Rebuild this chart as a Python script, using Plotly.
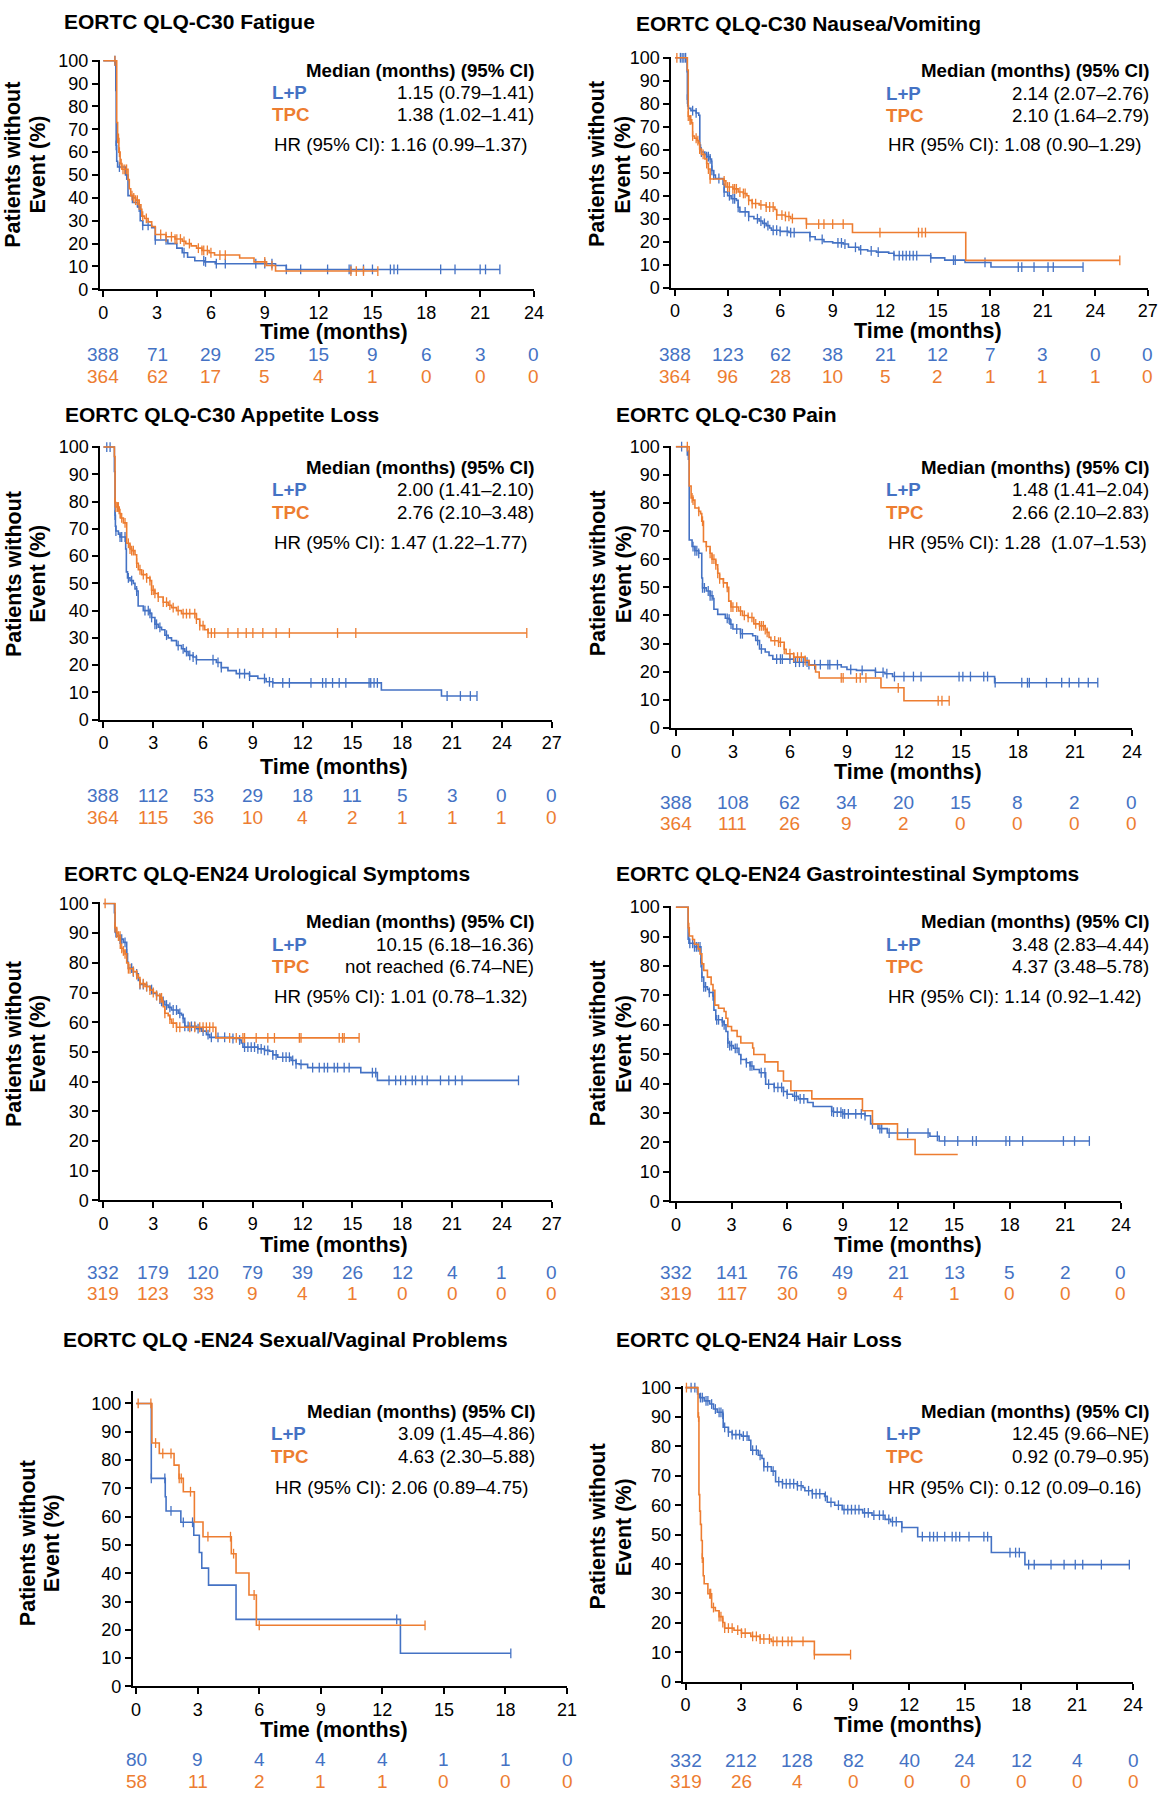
import numpy as np
import plotly.graph_objects as go

W, H = 1170, 1800
BLUE = "#4472C4"
ORANGE = "#ED7D31"
FONT = "Liberation Sans, Arial, Helvetica, sans-serif"

# ---------------- DATA ----------------
# Fatigue
fatigue_lp_t = [0, 0.66, 0.70, 0.72, 0.75, 0.80, 1.24, 1.38, 1.63, 1.92, 2.06, 2.2, 2.7, 2.9, 3.6, 4.1, 4.4, 4.7, 5.1, 5.65, 6.24, 9.6, 10.2, 22.1]
fatigue_lp_s = [100, 99, 87, 63, 56, 53.5, 50, 41, 38, 36, 30, 28, 27, 21.6, 20, 18, 16, 14, 12.5, 12, 11.2, 10.4, 8.7, 8.7]
fatigue_lp_c = [0.65, 0.72, 0.9, 1.3, 1.9, 2.0, 2.2, 2.5, 2.9, 3.5, 4.5, 5.6, 5.7, 6.3, 6.8, 8.5, 9.0, 9.4, 10.2, 11.0, 12.5, 13.7, 13.8, 14.5, 15.0, 16.0, 16.2, 16.4, 18.8, 19.6, 21.0, 21.3, 22.1]
fatigue_tpc_t = [0, 0.75, 0.8, 0.87, 0.94, 1.04, 1.38, 1.45, 1.53, 1.7, 1.8, 2.0, 2.1, 2.15, 2.3, 2.5, 2.7, 2.9, 3.5, 4.0, 4.4, 4.6, 4.9, 5.2, 5.5, 5.9, 6.2, 7.6, 8.4, 9.1, 9.6, 15.3]
fatigue_tpc_s = [100, 73, 66, 60, 55, 52.5, 48, 44, 41, 40, 39, 37, 35, 32, 31, 29.5, 27.5, 24, 23, 22, 21, 20, 19, 18, 17, 16, 15, 13.7, 12, 10.4, 8, 8]
fatigue_tpc_c = [0.65, 0.8, 0.85, 0.9, 1.0, 1.1, 1.2, 1.3, 1.6, 1.7, 1.8, 1.9, 2.0, 2.2, 2.4, 3.2, 3.5, 3.8, 4.0, 4.1, 4.3, 4.5, 4.8, 5.3, 5.5, 5.6, 5.8, 6.0, 6.5, 6.8, 9.0, 9.4, 13.8, 14.1, 14.5, 15.3]
fatigue_risk_lp = [388, 71, 29, 25, 15, 9, 6, 3, 0]
fatigue_risk_tpc = [364, 62, 17, 5, 4, 1, 0, 0, 0]

# Nausea/Vomiting
nausea_lp_t = [0, 0.68, 0.70, 0.72, 0.76, 0.9, 1.2, 1.35, 1.41, 1.45, 1.5, 1.7, 1.8, 2.0, 2.08, 2.1, 2.2, 2.3, 2.74, 2.8, 3.0, 3.2, 3.5, 3.6, 3.7, 4.2, 4.5, 4.8, 5.0, 5.2, 5.4, 5.5, 6.0, 6.5, 7.7, 8.0, 8.5, 9.0, 9.6, 9.9, 10.5, 11.0, 11.5, 12.2, 12.5, 14.6, 15.4, 16.56, 18.04, 23.3]
nausea_lp_s = [100, 94, 82, 79, 78, 77, 76, 75, 62, 60, 59, 58, 57, 56, 55, 51, 49, 47.5, 45, 41.6, 40, 38.7, 38, 35, 33, 31, 30, 29, 28, 27, 26, 25, 24.5, 24, 22.2, 21, 20, 19.5, 19, 17.6, 16.5, 16, 15.5, 15, 14, 13, 12, 11, 9, 9]
nausea_lp_c = [0.3, 0.4, 0.5, 0.6, 0.7, 1.0, 1.2, 1.5, 1.8, 1.9, 2.0, 2.1, 2.2, 2.5, 2.8, 3.1, 3.3, 3.4, 3.6, 4.0, 4.2, 4.7, 4.9, 5.1, 5.3, 5.6, 5.8, 6.0, 6.4, 6.6, 6.8, 7.7, 8.4, 9.3, 9.5, 9.7, 10.3, 10.6, 11.2, 11.6, 12.5, 12.8, 13.0, 13.2, 13.4, 13.6, 13.8, 14.6, 15.9, 16.0, 17.7, 19.6, 19.8, 20.5, 21.3, 21.6, 23.3]
nausea_tpc_t = [0, 0.7, 0.75, 0.85, 0.95, 1.0, 1.1, 1.25, 1.35, 1.4, 1.5, 1.7, 1.8, 1.9, 2.0, 2.8, 2.9, 3.3, 3.6, 3.9, 4.1, 4.2, 4.4, 4.8, 5.2, 5.7, 5.8, 6.3, 6.6, 7.5, 10.13, 16.6, 25.4]
nausea_tpc_s = [100, 94.7, 74.6, 73, 71.7, 66, 65, 64, 63, 60.3, 58, 56, 54, 51.6, 47.3, 46.5, 43.8, 43, 41.6, 41, 40, 38, 36.6, 36, 35.1, 34, 31.6, 31, 30.1, 27.7, 24, 11.9, 11.9]
nausea_tpc_c = [0.1, 0.75, 0.85, 0.9, 1.0, 1.2, 1.3, 1.4, 1.6, 1.8, 1.9, 2.0, 2.8, 3.0, 3.1, 3.3, 3.4, 3.5, 3.7, 3.9, 4.0, 4.2, 4.4, 4.6, 4.9, 5.2, 5.4, 5.6, 5.8, 6.1, 6.3, 6.5, 6.7, 7.5, 8.2, 8.5, 9.0, 9.6, 11.7, 13.9, 14.1, 14.3, 25.4]
nausea_risk_lp = [388, 123, 62, 38, 21, 12, 7, 3, 0, 0]
nausea_risk_tpc = [364, 96, 28, 10, 5, 2, 1, 1, 1, 0]

# Appetite loss
appetite_lp_t = [0, 0.66, 0.7, 0.72, 0.75, 0.9, 1.0, 1.34, 1.38, 1.45, 1.6, 1.8, 1.9, 2.0, 2.09, 2.4, 2.8, 2.9, 3.1, 3.3, 3.5, 3.7, 3.9, 4.1, 4.4, 4.7, 4.9, 5.1, 5.4, 5.6, 6.8, 7.1, 7.5, 8.0, 8.8, 9.3, 9.8, 10.2, 16.74, 20.36, 22.5]
appetite_lp_s = [100, 91, 75, 71, 69.2, 68, 67, 62.6, 54.2, 52, 51, 50, 48, 47.2, 41.7, 40, 39, 37.5, 35, 33.9, 33, 31, 30, 29, 27.2, 26, 25, 23.6, 23, 22, 21, 19.1, 18, 16.9, 16, 15.1, 13.9, 13.5, 10.9, 8.7, 8.7]
appetite_lp_c = [0.2, 0.4, 0.7, 0.75, 1.0, 1.1, 1.3, 1.5, 1.7, 2.0, 2.5, 2.7, 2.8, 2.9, 3.1, 3.2, 3.4, 3.8, 4.5, 4.8, 5.0, 5.2, 5.4, 5.6, 6.6, 6.9, 7.1, 8.2, 8.5, 8.8, 9.7, 10.0, 10.2, 10.8, 11.2, 12.5, 13.2, 13.4, 13.8, 14.2, 14.6, 16.0, 16.1, 16.3, 16.5, 20.7, 21.5, 22.1, 22.5]
appetite_tpc_t = [0, 0.66, 0.7, 0.75, 0.95, 1.05, 1.2, 1.4, 1.6, 1.7, 1.9, 2.0, 2.1, 2.3, 2.6, 2.8, 2.9, 3.1, 3.3, 3.6, 3.9, 4.1, 4.4, 4.7, 5.6, 5.8, 6.1, 6.3, 25.5]
appetite_tpc_s = [100, 96.5, 79.6, 78, 75.6, 74, 72.2, 64.7, 62.6, 62, 60.5, 57.4, 55, 53.2, 52, 51, 47.5, 46.3, 45, 43.1, 42, 41.1, 40, 38.9, 36.9, 34.5, 33, 31.8, 31.8]
appetite_tpc_c = [0.7, 0.75, 0.85, 0.9, 1.0, 1.1, 1.3, 1.5, 1.6, 1.7, 1.8, 2.0, 2.2, 2.4, 2.6, 2.8, 2.9, 3.0, 3.1, 3.3, 3.6, 3.8, 4.0, 4.2, 4.5, 4.8, 5.0, 5.2, 5.5, 5.6, 5.8, 6.0, 6.3, 6.5, 6.7, 7.5, 8.1, 8.6, 9.0, 9.6, 10.4, 11.2, 14.1, 15.2, 25.5]
appetite_risk_lp = [388, 112, 53, 29, 18, 11, 5, 3, 0, 0]
appetite_risk_tpc = [364, 115, 36, 10, 4, 2, 1, 1, 1, 0]

# Pain
pain_lp_t = [0, 0.6, 0.7, 0.85, 1.0, 1.2, 1.36, 1.4, 1.6, 1.8, 1.95, 2.0, 2.2, 2.6, 2.8, 2.85, 3.0, 3.4, 4.04, 4.2, 4.4, 4.7, 4.9, 5.1, 6.2, 7.0, 8.7, 9.0, 9.5, 10.5, 11.0, 11.4, 16.77, 22.2]
pain_lp_s = [100, 97, 66.8, 64.5, 63, 62.1, 53.3, 49.8, 48.7, 47, 46, 42.2, 40.4, 39, 38.7, 36.9, 35.2, 33.5, 32.8, 31.1, 28.1, 27, 25.8, 24.5, 23.4, 22.5, 21.7, 20.8, 20.5, 19.8, 19.3, 18.3, 16.1, 16.1]
pain_lp_c = [0.3, 0.65, 0.9, 1.0, 1.1, 1.2, 1.4, 1.5, 1.7, 1.8, 1.9, 2.7, 2.8, 2.9, 3.2, 3.4, 3.5, 4.3, 4.5, 5.3, 5.5, 5.6, 6.0, 6.3, 6.5, 6.7, 6.9, 7.0, 7.3, 7.6, 8.0, 8.1, 8.5, 9.2, 9.8, 10.5, 10.9, 11.1, 11.5, 12.0, 12.5, 12.9, 14.9, 15.1, 15.5, 16.2, 16.4, 16.8, 18.2, 18.5, 18.6, 19.5, 20.3, 20.7, 21.2, 21.7, 22.2]
pain_tpc_t = [0, 0.7, 0.8, 0.9, 1.0, 1.2, 1.3, 1.36, 1.45, 1.6, 1.8, 1.9, 2.1, 2.2, 2.3, 2.5, 2.7, 2.78, 2.9, 3.3, 3.5, 3.8, 4.1, 4.4, 4.7, 4.8, 4.9, 5.0, 5.4, 5.7, 5.8, 6.2, 6.8, 7.0, 7.35, 7.54, 10.79, 12.0, 14.38]
pain_tpc_s = [100, 86, 81.8, 81, 78.2, 77, 76.2, 73.5, 66.2, 64.5, 62.1, 60, 58, 55, 53, 51.6, 50, 45.1, 43, 41.6, 40, 39.3, 37, 36.3, 35, 34, 32.2, 31, 30.5, 28, 26.4, 25.2, 24, 22.3, 19.9, 17.8, 14.3, 9.7, 9.7]
pain_tpc_c = [0.6, 0.85, 0.9, 1.2, 1.4, 1.6, 1.8, 1.9, 2.0, 2.1, 2.2, 2.3, 2.5, 2.7, 2.9, 3.0, 3.2, 3.4, 3.6, 3.8, 4.0, 4.2, 4.4, 4.5, 4.6, 4.7, 4.8, 5.2, 5.4, 5.5, 5.7, 6.0, 6.2, 6.4, 6.6, 6.8, 8.7, 8.8, 9.5, 9.7, 10.0, 11.7, 13.8, 14.0, 14.38]
pain_risk_lp = [388, 108, 62, 34, 20, 15, 8, 2, 0]
pain_risk_tpc = [364, 111, 26, 9, 2, 0, 0, 0, 0]

# Urological symptoms
uro_lp_t = [0, 0.66, 0.7, 0.72, 0.8, 1.0, 1.2, 1.4, 1.45, 1.5, 1.8, 2.0, 2.1, 2.2, 2.6, 2.8, 3.0, 3.2, 3.4, 3.5, 3.7, 3.9, 4.1, 4.5, 4.7, 4.8, 4.9, 5.6, 5.9, 6.2, 6.4, 7.8, 8.2, 8.3, 8.4, 9.3, 9.7, 10.0, 10.2, 10.5, 11.3, 11.6, 11.8, 12.3, 15.5, 16.5, 25.0]
uro_lp_s = [100, 96.9, 91.9, 90.2, 89, 88, 86.9, 83, 80.2, 78.2, 77, 76.3, 74.1, 72.7, 72, 71, 69.7, 69, 67.8, 67, 65.8, 65, 64.1, 63, 62.4, 61.3, 58.6, 57.8, 57, 55.8, 54.9, 54.5, 54, 53, 51.6, 51, 50.5, 50.2, 49, 48.2, 47.1, 46, 45.8, 44.7, 43, 40.4, 40.4]
uro_lp_c = [0.7, 0.75, 1.0, 1.1, 1.3, 1.4, 1.7, 1.8, 2.0, 2.2, 2.4, 2.6, 2.9, 3.2, 3.4, 3.5, 3.6, 3.8, 4.0, 4.2, 4.4, 4.6, 4.8, 4.9, 5.1, 5.3, 5.5, 5.7, 6.0, 6.3, 6.5, 6.9, 7.3, 7.8, 8.2, 8.5, 8.7, 8.9, 9.1, 9.3, 9.5, 9.7, 9.9, 10.2, 10.4, 10.8, 11.0, 11.2, 11.4, 11.6, 11.9, 12.6, 13.0, 13.3, 13.5, 13.9, 14.1, 14.5, 14.8, 16.2, 16.4, 17.2, 17.6, 17.9, 18.2, 18.6, 18.8, 19.2, 19.5, 20.3, 20.8, 21.2, 21.6, 25.0]
uro_tpc_t = [0, 0.7, 0.8, 0.9, 1.02, 1.2, 1.3, 1.4, 1.5, 1.8, 2.0, 2.1, 2.2, 2.5, 2.8, 3.0, 3.2, 3.4, 3.55, 3.6, 3.7, 3.9, 4.0, 4.1, 4.4, 6.77, 15.4]
uro_tpc_s = [100, 91.9, 90, 89, 84.9, 84, 83, 80, 78, 77.1, 76, 75, 73, 72, 70.8, 70, 69, 68.2, 67, 65.2, 63, 62.2, 61, 59.7, 58.3, 54.7, 54.7]
uro_tpc_c = [0.1, 0.7, 0.8, 0.9, 1.0, 1.1, 1.2, 1.3, 1.5, 1.6, 1.8, 2.0, 2.2, 2.4, 2.6, 2.8, 3.0, 3.2, 3.4, 3.5, 3.7, 4.0, 4.2, 4.4, 4.6, 5.2, 5.5, 5.8, 6.0, 6.2, 6.4, 6.6, 7.6, 8.0, 8.4, 8.5, 9.2, 9.9, 10.3, 11.8, 11.9, 14.2, 14.4, 14.5, 15.4]
uro_risk_lp = [332, 179, 120, 79, 39, 26, 12, 4, 1, 0]
uro_risk_tpc = [319, 123, 33, 9, 4, 1, 0, 0, 0, 0]

# Gastrointestinal symptoms
gi_lp_t = [0, 0.66, 0.72, 1.0, 1.35, 1.4, 1.5, 1.7, 1.8, 2.0, 2.05, 2.15, 2.5, 2.6, 2.7, 2.8, 2.9, 3.1, 3.4, 3.5, 3.8, 4.0, 4.2, 4.5, 4.84, 5.3, 5.8, 6.0, 6.3, 6.6, 7.1, 7.4, 8.4, 8.5, 9.0, 10.2, 10.5, 10.9, 11.4, 13.7, 14.2, 22.3]
gi_lp_s = [100, 89.1, 87.7, 86.5, 81.1, 76.2, 72.9, 72, 71, 69.8, 65, 61.7, 61, 60, 57.7, 53.8, 52.9, 52, 49.9, 48.2, 47.1, 46, 44.8, 43.7, 39.8, 38.7, 37.3, 36.4, 35.7, 34.8, 33.6, 32.2, 30.6, 30.3, 29.7, 29.1, 26.3, 24.7, 23.2, 22.1, 20.5, 20.5]
gi_lp_c = [0.7, 0.75, 0.9, 1.0, 1.1, 1.2, 1.3, 1.35, 1.4, 1.5, 1.6, 1.8, 2.0, 2.2, 2.3, 2.5, 2.6, 2.8, 2.9, 3.0, 3.2, 3.3, 3.5, 3.8, 4.0, 4.1, 4.6, 4.8, 5.0, 5.3, 5.5, 5.7, 5.8, 6.0, 6.4, 6.5, 6.7, 6.9, 8.4, 8.5, 8.7, 8.9, 9.0, 9.1, 9.3, 9.7, 10.0, 10.2, 10.6, 11.0, 11.1, 11.5, 12.5, 13.6, 14.1, 14.5, 15.2, 16.0, 16.2, 17.8, 18.0, 18.7, 20.9, 21.5, 22.3]
gi_tpc_t = [0, 0.66, 0.72, 0.9, 1.0, 1.2, 1.3, 1.4, 1.5, 1.7, 1.9, 2.0, 2.1, 2.3, 2.6, 2.7, 2.8, 3.0, 3.3, 3.5, 4.14, 4.2, 4.8, 5.5, 5.8, 6.2, 7.33, 10.06, 10.6, 11.95, 12.9, 15.2]
gi_tpc_s = [100, 93, 90.2, 89, 87.4, 85.8, 84.1, 80.7, 78.5, 76.2, 73.7, 71.7, 66.7, 65.6, 64.5, 62.2, 59.4, 58, 56, 53.8, 52.1, 49.9, 47.4, 44.3, 40.9, 37.6, 34.8, 30.8, 26.3, 21, 15.9, 15.9]
gi_tpc_c = [0.7]
gi_risk_lp = [332, 141, 76, 49, 21, 13, 5, 2, 0]
gi_risk_tpc = [319, 117, 30, 9, 4, 1, 0, 0, 0]

# Sexual/vaginal problems
sex_lp_t = [0, 0.74, 1.42, 1.46, 2.18, 2.81, 3.08, 3.2, 3.53, 4.87, 12.88, 18.26]
sex_lp_s = [100, 73.5, 67, 62, 58, 53.4, 47.3, 41.8, 35.8, 23.7, 11.7, 11.7]
sex_lp_c = [0.74, 1.4, 1.7, 2.3, 2.75, 12.7, 18.26]
sex_tpc_t = [0, 0.77, 1.13, 1.85, 2.09, 2.3, 2.84, 3.26, 4.64, 4.87, 5.5, 5.86, 14.08]
sex_tpc_s = [100, 86, 82.3, 78.2, 73.5, 68.8, 58.1, 52.9, 46.9, 40.1, 32.3, 21.6, 21.6]
sex_tpc_c = [0.1, 0.72, 0.95, 1.3, 1.7, 2.1, 2.2, 2.65, 3.5, 4.6, 4.75, 5.75, 6.0, 14.08]
sex_risk_lp = [80, 9, 4, 4, 4, 1, 1, 0]
sex_risk_tpc = [58, 11, 2, 1, 1, 0, 0, 0]

# Hair loss
hair_lp_t = [0, 0.63, 0.65, 0.75, 1.0, 1.3, 1.5, 1.7, 2.0, 2.02, 2.3, 2.5, 3.0, 3.4, 3.5, 3.9, 4.1, 4.2, 4.6, 4.83, 5.2, 6.0, 6.3, 6.4, 6.8, 7.46, 7.6, 8.0, 8.4, 9.5, 10.0, 10.7, 11.0, 11.6, 12.45, 16.4, 18.2, 23.8]
hair_lp_s = [100, 98.5, 97.8, 96.6, 95.5, 94.4, 92.7, 91.6, 91, 86.5, 84.9, 84, 83.5, 82.1, 78.7, 77, 75.9, 73.1, 71.6, 68, 67.3, 66.6, 66, 64.9, 63.9, 63, 61, 60, 58.5, 57.4, 56.6, 55.2, 54.4, 52.4, 49.3, 43.9, 39.8, 39.8]
hair_lp_c = [0.3, 0.5, 0.8, 0.9, 1.1, 1.2, 1.4, 1.6, 1.8, 1.9, 2.0, 2.1, 2.3, 2.5, 2.7, 2.9, 3.1, 3.3, 3.6, 3.8, 4.0, 4.2, 4.4, 4.7, 5.0, 5.2, 5.4, 5.6, 5.8, 6.0, 6.2, 6.6, 6.8, 7.0, 7.2, 7.5, 7.8, 8.2, 8.5, 8.7, 8.9, 9.1, 9.3, 9.6, 9.8, 10.1, 10.4, 10.6, 10.9, 11.1, 11.3, 11.6, 12.7, 13.1, 13.3, 13.5, 13.9, 14.3, 14.5, 14.7, 15.2, 16.0, 16.2, 17.4, 17.7, 17.9, 18.4, 18.7, 19.6, 20.3, 20.9, 21.3, 22.3, 23.8]
hair_tpc_t = [0, 0.67, 0.72, 0.76, 0.8, 0.85, 0.9, 0.95, 1.0, 1.2, 1.4, 1.6, 1.8, 2.0, 2.1, 2.6, 3.0, 3.5, 4.0, 4.6, 6.91, 8.85]
hair_tpc_s = [100, 90, 63.6, 58, 53.5, 48, 42, 36, 33.3, 29.9, 25.2, 24.1, 22.1, 20.1, 18.2, 17.5, 16.5, 15.4, 14.5, 13.7, 9.2, 9.2]
hair_tpc_c = [0.05, 0.7, 0.9, 1.3, 1.35, 1.5, 1.8, 1.9, 2.0, 2.1, 2.3, 2.5, 2.8, 3.0, 3.2, 3.6, 3.8, 4.0, 4.2, 4.5, 4.7, 4.9, 5.2, 5.5, 5.7, 6.3, 6.91, 8.85]
hair_risk_lp = [332, 212, 128, 82, 40, 24, 12, 4, 0]
hair_risk_tpc = [319, 26, 4, 0, 0, 0, 0, 0, 0]

titles = ["EORTC QLQ-C30 Fatigue", "EORTC QLQ-C30 Nausea/Vomiting", "EORTC QLQ-C30 Appetite Loss",
          "EORTC QLQ-C30 Pain", "EORTC QLQ-EN24 Urological Symptoms", "EORTC QLQ-EN24 Gastrointestinal Symptoms",
          "EORTC QLQ -EN24 Sexual/Vaginal Problems", "EORTC QLQ-EN24 Hair Loss"]
x_max = [24, 27, 27, 24, 27, 24, 21, 24]
median_lp = ["1.15 (0.79–1.41)", "2.14 (2.07–2.76)", "2.00 (1.41–2.10)", "1.48 (1.41–2.04)",
             "10.15 (6.18–16.36)", "3.48 (2.83–4.44)", "3.09 (1.45–4.86)", "12.45 (9.66–NE)"]
median_tpc = ["1.38 (1.02–1.41)", "2.10 (1.64–2.79)", "2.76 (2.10–3.48)", "2.66 (2.10–2.83)",
              "not reached (6.74–NE)", "4.37 (3.48–5.78)", "4.63 (2.30–5.88)", "0.92 (0.79–0.95)"]
hr_text = ["HR (95% CI): 1.16 (0.99–1.37)", "HR (95% CI): 1.08 (0.90–1.29)", "HR (95% CI): 1.47 (1.22–1.77)",
           "HR (95% CI): 1.28\u00a0 (1.07–1.53)", "HR (95% CI): 1.01 (0.78–1.32)", "HR (95% CI): 1.14 (0.92–1.42)",
           "HR (95% CI): 2.06 (0.89–4.75)", "HR (95% CI): 0.12 (0.09–0.16)"]

curves = [
    ((fatigue_lp_t, fatigue_lp_s, fatigue_lp_c), (fatigue_tpc_t, fatigue_tpc_s, fatigue_tpc_c), fatigue_risk_lp, fatigue_risk_tpc),
    ((nausea_lp_t, nausea_lp_s, nausea_lp_c), (nausea_tpc_t, nausea_tpc_s, nausea_tpc_c), nausea_risk_lp, nausea_risk_tpc),
    ((appetite_lp_t, appetite_lp_s, appetite_lp_c), (appetite_tpc_t, appetite_tpc_s, appetite_tpc_c), appetite_risk_lp, appetite_risk_tpc),
    ((pain_lp_t, pain_lp_s, pain_lp_c), (pain_tpc_t, pain_tpc_s, pain_tpc_c), pain_risk_lp, pain_risk_tpc),
    ((uro_lp_t, uro_lp_s, uro_lp_c), (uro_tpc_t, uro_tpc_s, uro_tpc_c), uro_risk_lp, uro_risk_tpc),
    ((gi_lp_t, gi_lp_s, gi_lp_c), (gi_tpc_t, gi_tpc_s, gi_tpc_c), gi_risk_lp, gi_risk_tpc),
    ((sex_lp_t, sex_lp_s, sex_lp_c), (sex_tpc_t, sex_tpc_s, sex_tpc_c), sex_risk_lp, sex_risk_tpc),
    ((hair_lp_t, hair_lp_s, hair_lp_c), (hair_tpc_t, hair_tpc_s, hair_tpc_c), hair_risk_lp, hair_risk_tpc),
]

# ---------------- GEOMETRY (pixels in the 1170x1800 page) ----------------
geom = [
    dict(axl=99.0, x0=102.3, xe=537.5, yt=51.3, y100=52.3, y0=283.3),
    dict(axl=676.4, x0=680.1, xe=1157.7, yt=48.3, y100=49.3, y0=281.7),
    dict(axl=99.3, x0=102.5, xe=555.4, yt=441.7, y100=442.7, y0=718.3),
    dict(axl=676.4, x0=680.9, xe=1141.7, yt=441.3, y100=442.3, y0=726.7),
    dict(axl=99.3, x0=102.5, xe=555.4, yt=903, y100=904, y0=1204),
    dict(axl=676.4, x0=680.9, xe=1130.5, yt=906.7, y100=907.7, y0=1205),
    dict(axl=132.2, x0=135.5, xe=570.9, yt=1396.7, y100=1409.3, y0=1695.3),
    dict(axl=687.6, x0=690.6, xe=1142.8, yt=1391.7, y100=1393.3, y0=1690.5),
]
tpos = [
    dict(tx=60.5, ty=12.4, yx1=11.5, yx2=36.5, yc=157, hr_r=540, lab=270.4, hy=62, ly=84.5, oy=107, hrx=273.2, hry=136.7, xtx=335.7, xty=326, r1=349, r2=371),
    dict(tx=639, ty=15, yx1=601.8, yx2=627.9, yc=157, hr_r=1160.5, lab=891, hy=62, ly=85, oy=107.3, hrx=892.8, hry=136.7, xtx=935.7, xty=325.5, r1=349, r2=371),
    dict(tx=61.4, ty=410, yx1=11.5, yx2=36.5, yc=570.7, hr_r=540, lab=270.4, hy=463.3, ly=485.5, oy=508.5, hrx=273.2, hry=539, xtx=335.7, xty=766, r1=795, r2=817.3),
    dict(tx=618.6, ty=410, yx1=601.8, yx2=627.9, yc=570.7, hr_r=1160.5, lab=891, hy=463.3, ly=485.5, oy=508.5, hrx=892.8, hry=539, xtx=915.2, xty=771.5, r1=801.7, r2=823.3),
    dict(tx=60.7, ty=873.3, yx1=11.5, yx2=36.5, yc=1045.7, hr_r=540, lab=270.4, hy=922.7, ly=945.5, oy=968, hrx=273.2, hry=998.3, xtx=335.7, xty=1249.5, r1=1276.7, r2=1298.3),
    dict(tx=618.6, ty=873.3, yx1=601.8, yx2=627.9, yc=1045.7, hr_r=1160.5, lab=891, hy=922.7, ly=945.5, oy=968, hrx=892.8, hry=998.3, xtx=915.2, xty=1249.5, r1=1276.7, r2=1298.3),
    dict(tx=59.7, ty=1345, yx1=26.1, yx2=50.4, yc=1550.7, hr_r=540.3, lab=269.4, hy=1417.7, ly=1440, oy=1462.7, hrx=273.5, hry=1494.3, xtx=335.8, xty=1739.5, r1=1769.5, r2=1791),
    dict(tx=618.6, ty=1345, yx1=601.8, yx2=627.9, yc=1534, hr_r=1160.5, lab=891, hy=1417.7, ly=1440, oy=1462.7, hrx=892.8, hry=1494.3, xtx=915.2, xty=1734.5, r1=1770, r2=1791.5),
]

S_TICK, S_RISK, S_LEG, S_TITLE, S_AXT = 18, 19, 18.7, 21, 21.5


def step_at(t, s, q):
    t = np.asarray(t, float)
    s = np.asarray(s, float)
    idx = np.searchsorted(t, np.asarray(q, float), side="right") - 1
    idx = np.clip(idx, 0, len(s) - 1)
    return s[idx]


def ann(text, x, y, size, color="black", xanchor="left", xref="paper", angle=0):
    return dict(text=text, x=(x / W if xref == "paper" else x), y=1 - y / H, xref=xref, yref="paper",
                xanchor=xanchor, yanchor="middle", showarrow=False, textangle=angle,
                font=dict(family=FONT, size=size, color=color))


fig = go.Figure()
annotations = []
axes = {}
for i in range(8):
    n = i + 1
    xa, ya = ("x", "y") if n == 1 else (f"x{n}", f"y{n}")
    xk, yk = ("xaxis", "yaxis") if n == 1 else (f"xaxis{n}", f"yaxis{n}")
    g, tp, xm = geom[i], tpos[i], x_max[i]
    ppm = (g["xe"] - g["x0"]) / xm
    xstart = -(g["x0"] - g["axl"]) / ppm
    ppu = (g["y0"] - g["y100"]) / 100.0
    ytop = 100 + (g["y100"] - g["yt"]) / ppu
    common = dict(showline=True, linecolor="black", linewidth=2, ticks="outside", ticklen=6, tickwidth=2,
                  tickcolor="black", showgrid=False, zeroline=False,
                  tickfont=dict(family=FONT, size=S_TICK, color="black"), fixedrange=True)
    xticks = list(range(0, xm + 1, 3))
    axes[xk] = dict(domain=[g["axl"] / W, g["xe"] / W], range=[xstart, xm + 1e-6], anchor=ya,
                    tickvals=xticks, ticktext=[str(v) for v in xticks], **common)
    axes[yk] = dict(domain=[1 - g["y0"] / H, 1 - g["yt"] / H], range=[0, ytop], anchor=xa,
                    tickvals=list(range(0, 101, 10)), **common)

    lp, tpc, rlp, rtpc = curves[i]
    for (t, s, c), color in ((lp, BLUE), (tpc, ORANGE)):
        k = min(len(t), len(s))
        t, s = t[:k], s[:k]
        fig.add_trace(go.Scatter(x=t, y=s, mode="lines", line=dict(shape="hv", color=color, width=1.6),
                                 xaxis=xa, yaxis=ya, hoverinfo="skip", showlegend=False))
        fig.add_trace(go.Scatter(x=c, y=step_at(t, s, c), mode="markers", cliponaxis=False,
                                 marker=dict(symbol="line-ns", size=7, color=color, line=dict(width=1.3, color=color)),
                                 xaxis=xa, yaxis=ya, hoverinfo="skip", showlegend=False))

    annotations.append(ann(f"<b>{titles[i]}</b>", tp["tx"], tp["ty"], S_TITLE))
    annotations.append(ann("<b>Patients without</b>", tp["yx1"], tp["yc"], S_AXT, xanchor="center", angle=-90))
    annotations.append(ann("<b>Event (%)</b>", tp["yx2"], tp["yc"], S_AXT, xanchor="center", angle=-90))
    annotations.append(ann("<b>Time (months)</b>", tp["xtx"], tp["xty"], S_AXT, xanchor="center"))
    annotations.append(ann("<b>Median (months) (95% CI)</b>", tp["hr_r"], tp["hy"], S_LEG, xanchor="right"))
    annotations.append(ann("<b>L+P</b>", tp["lab"], tp["ly"], S_LEG, color=BLUE))
    annotations.append(ann(median_lp[i], tp["hr_r"], tp["ly"], S_LEG, xanchor="right"))
    annotations.append(ann("<b>TPC</b>", tp["lab"], tp["oy"], S_LEG, color=ORANGE))
    annotations.append(ann(median_tpc[i], tp["hr_r"], tp["oy"], S_LEG, xanchor="right"))
    annotations.append(ann(hr_text[i], tp["hrx"], tp["hry"], S_LEG))
    for k, v in enumerate(rlp):
        annotations.append(ann(str(v), 3 * k, tp["r1"], S_RISK, color=BLUE, xanchor="center", xref=xa))
    for k, v in enumerate(rtpc):
        annotations.append(ann(str(v), 3 * k, tp["r2"], S_RISK, color=ORANGE, xanchor="center", xref=xa))

fig.update_layout(width=W, height=H, margin=dict(l=0, r=0, t=0, b=0), paper_bgcolor="white",
                  plot_bgcolor="white", showlegend=False, annotations=annotations,
                  font=dict(family=FONT, color="black"), **axes)
fig.write_html("out.html", config={"displayModeBar": False},
               post_script="document.body.style.margin='0px';document.body.style.overflow='hidden';")
